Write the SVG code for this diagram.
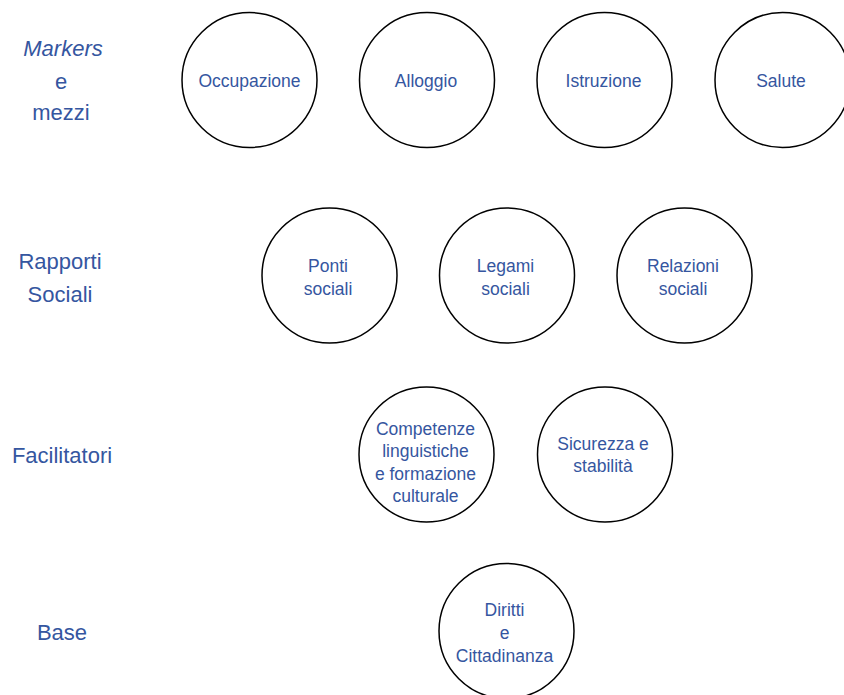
<svg xmlns="http://www.w3.org/2000/svg" width="844" height="695" viewBox="0 0 844 695">
<style>
.n{fill:#fff;stroke:#000;stroke-width:1.5}
.t{font-family:"Liberation Sans",Arial,sans-serif;font-size:17.5px;fill:#3556a0;text-anchor:middle}
.l{font-family:"Liberation Sans",Arial,sans-serif;font-size:22px;fill:#3556a0;text-anchor:middle}
</style>
<rect width="844" height="695" fill="#fff"/>
<g id="labels">
<text class="l" x="63" y="56" font-style="italic">Markers</text>
<text class="l" x="61" y="89">e</text>
<text class="l" x="61" y="120">mezzi</text>
<text class="l" x="60" y="269">Rapporti</text>
<text class="l" x="60" y="302">Sociali</text>
<text class="l" x="62" y="463">Facilitatori</text>
<text class="l" x="62" y="640">Base</text>
</g>
<g id="connectors"></g>
<g id="occupazione"><circle class="n" cx="249.5" cy="80" r="67.5"/><text class="t" x="249.5" y="87">Occupazione</text></g>
<g id="alloggio"><circle class="n" cx="427" cy="80" r="67.5"/><text class="t" x="426" y="87">Alloggio</text></g>
<g id="istruzione"><circle class="n" cx="604.5" cy="80" r="67.5"/><text class="t" x="603.5" y="87">Istruzione</text></g>
<g id="salute"><circle class="n" cx="782.5" cy="80" r="67.5"/><text class="t" x="781" y="87">Salute</text></g>
<g id="ponti"><circle class="n" cx="329.5" cy="275.5" r="67.5"/><text class="t" x="328" y="272">Ponti</text><text class="t" x="328" y="295">sociali</text></g>
<g id="legami"><circle class="n" cx="507" cy="275.5" r="67.5"/><text class="t" x="505.5" y="272">Legami</text><text class="t" x="505.5" y="295">sociali</text></g>
<g id="relazioni"><circle class="n" cx="684.5" cy="275.5" r="67.5"/><text class="t" x="683" y="272">Relazioni</text><text class="t" x="683" y="295">sociali</text></g>
<g id="competenze"><circle class="n" cx="426.5" cy="454.5" r="67.5"/><text class="t" x="425.5" y="435">Competenze</text><text class="t" x="425.5" y="457">linguistiche</text><text class="t" x="425.5" y="479.5">e formazione</text><text class="t" x="425.5" y="502">culturale</text></g>
<g id="sicurezza"><circle class="n" cx="605" cy="454.5" r="67.5"/><text class="t" x="603" y="450">Sicurezza e</text><text class="t" x="603" y="472">stabilità</text></g>
<g id="diritti"><circle class="n" cx="506.5" cy="631" r="67.5"/><text class="t" x="504.5" y="616">Diritti</text><text class="t" x="504.5" y="638.5">e</text><text class="t" x="504.5" y="661.5">Cittadinanza</text></g>
</svg>
